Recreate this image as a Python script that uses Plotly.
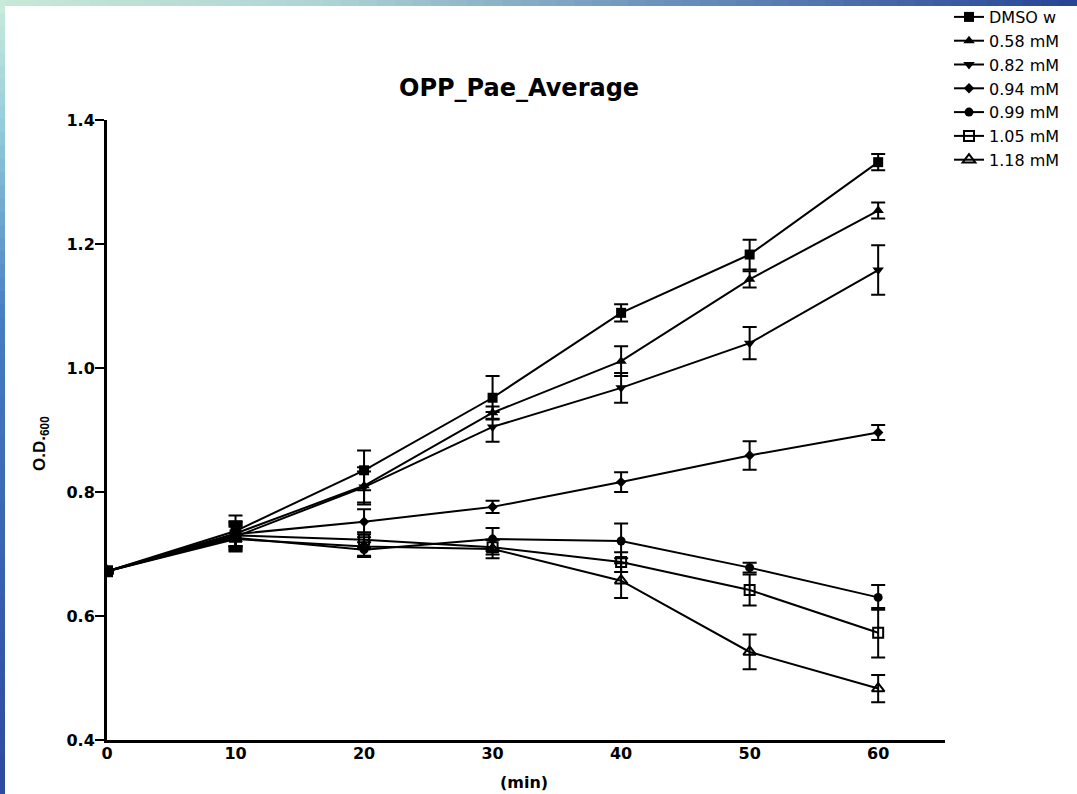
import plotly.graph_objects as go

# ---- data ----
time_min = [0, 10, 20, 30, 40, 50, 60]
series_names = ["DMSO w", "0.58 mM", "0.82 mM", "0.94 mM", "0.99 mM", "1.05 mM", "1.18 mM"]

dmso = [0.672, 0.737, 0.835, 0.952, 1.089, 1.183, 1.332]
dmso_err = [0.0, 0.025, 0.032, 0.035, 0.014, 0.024, 0.013]
c058 = [0.672, 0.733, 0.810, 0.928, 1.011, 1.143, 1.254]
c058_err = [0.0, 0.02, 0.03, 0.01, 0.024, 0.013, 0.013]
c082 = [0.672, 0.728, 0.808, 0.905, 0.968, 1.040, 1.158]
c082_err = [0.0, 0.02, 0.025, 0.024, 0.024, 0.026, 0.040]
c094 = [0.672, 0.732, 0.752, 0.776, 0.816, 0.859, 0.896]
c094_err = [0.0, 0.02, 0.02, 0.010, 0.016, 0.023, 0.012]
c099 = [0.672, 0.726, 0.707, 0.724, 0.721, 0.678, 0.630]
c099_err = [0.0, 0.02, 0.012, 0.018, 0.028, 0.008, 0.020]
c105 = [0.672, 0.730, 0.723, 0.711, 0.687, 0.642, 0.573]
c105_err = [0.0, 0.02, 0.012, 0.012, 0.016, 0.025, 0.040]
c118 = [0.672, 0.724, 0.712, 0.708, 0.657, 0.542, 0.483]
c118_err = [0.0, 0.02, 0.015, 0.015, 0.028, 0.028, 0.022]

values = [dmso, c058, c082, c094, c099, c105, c118]
errors = [dmso_err, c058_err, c082_err, c094_err, c099_err, c105_err, c118_err]
symbols = ["square", "triangle-up", "triangle-down", "diamond", "circle", "square-open", "triangle-up-open"]
sizes = [10, 10, 10, 8, 9, 10, 11]

y_ticks = [0.4, 0.6, 0.8, 1.0, 1.2, 1.4]
x_ticks = [0, 10, 20, 30, 40, 50, 60]

# ---- layout geometry (pixels) ----
W, H = 1077, 794
L, R, T, B = 107, 132, 120, 54
PW = W - L - R
PH = H - T - B


def px(xp):
    return (xp - L) / PW


def py(yp):
    return (H - B - yp) / PH


fig = go.Figure()

for name, v, e, s, sz in zip(series_names, values, errors, symbols, sizes):
    fig.add_trace(go.Scatter(
        x=time_min, y=v, name=name, mode="lines+markers",
        line=dict(color="black", width=2),
        marker=dict(symbol=s, size=sz, color="black",
                    line=dict(color="black", width=2 if "open" in s else 0)),
        error_y=dict(type="data", array=e, visible=True, color="black",
                     thickness=2, width=7),
    ))

# ---- decorative blue frame (top and left strips) ----
shapes = []
n = 60


def lerp(c1, c2, t):
    return "rgb(%d,%d,%d)" % tuple(int(a + (b - a) * t) for a, b in zip(c1, c2))


top_stops = [(0.0, (200, 232, 215)), (0.3, (175, 212, 212)), (0.6, (110, 150, 190)), (1.0, (40, 70, 150))]
left_stops = [(0.0, (200, 235, 218)), (0.15, (150, 205, 220)), (0.4, (70, 125, 195)), (1.0, (45, 75, 160))]


def grad(stops, t):
    for (t0, c0), (t1, c1) in zip(stops[:-1], stops[1:]):
        if t <= t1:
            return lerp(c0, c1, (t - t0) / (t1 - t0))
    return lerp(stops[-1][1], stops[-1][1], 0)


for i in range(n):
    x0 = W * i / n
    x1 = W * (i + 1) / n + 1
    shapes.append(dict(type="rect", xref="paper", yref="paper",
                       x0=px(x0), x1=px(x1), y0=py(6), y1=py(-2),
                       fillcolor=grad(top_stops, i / (n - 1)), line=dict(width=0), layer="below"))
for i in range(n):
    y0 = H * i / n
    y1 = H * (i + 1) / n + 1
    shapes.append(dict(type="rect", xref="paper", yref="paper",
                       x0=px(-2), x1=px(5), y0=py(y1), y1=py(y0),
                       fillcolor=grad(left_stops, i / (n - 1)), line=dict(width=0), layer="below"))

TICKFONT = dict(size=16, weight="bold", family="DejaVu Sans", color="black")

fig.update_layout(
    width=W, height=H,
    margin=dict(l=L, r=R, t=T, b=B, pad=0, autoexpand=False),
    paper_bgcolor="white", plot_bgcolor="white",
    font=dict(family="DejaVu Sans", color="black"),
    shapes=shapes,
    showlegend=True,
    legend=dict(xref="container", yref="container",
                x=949 / W, y=1.0, xanchor="left", yanchor="top",
                font=dict(size=16, family="DejaVu Sans", color="black"),
                bgcolor="rgba(0,0,0,0)", tracegroupgap=0, itemwidth=30),
    xaxis=dict(range=[0, 65.2], tickvals=x_ticks, ticktext=[str(t) for t in x_ticks],
               showline=True, linewidth=3, linecolor="black", ticks="",
               ticklabelstandoff=-3,
               showgrid=False, zeroline=False, tickfont=TICKFONT),
    yaxis=dict(range=[0.4, 1.4], tickvals=y_ticks, ticktext=["%.1f" % t for t in y_ticks],
               showline=True, linewidth=3, linecolor="black", ticks="outside",
               ticklen=9, tickwidth=2, tickcolor="black", ticklabelstandoff=-3,
               showgrid=False, zeroline=False, tickfont=TICKFONT),
    annotations=[
        dict(text="<b>OPP_Pae_Average</b>", x=px(519), y=py(88), xref="paper", yref="paper",
             xanchor="center", yanchor="middle",
             showarrow=False, font=dict(size=24, family="DejaVu Sans")),
        dict(text="<b>(min)</b>", x=px(524), y=py(782), xref="paper", yref="paper",
             xanchor="center", yanchor="middle",
             showarrow=False, font=dict(size=16, family="DejaVu Sans")),
        dict(text="<b>O.D.<sub>600</sub></b>", x=px(41), y=py(444), xref="paper", yref="paper",
             xanchor="center", yanchor="middle",
             showarrow=False, textangle=-90, font=dict(size=17, family="Liberation Sans, Arial")),
    ],
)

fig.write_html("out.html", config={"displayModeBar": False},
               post_script="document.body.style.margin='0';")
